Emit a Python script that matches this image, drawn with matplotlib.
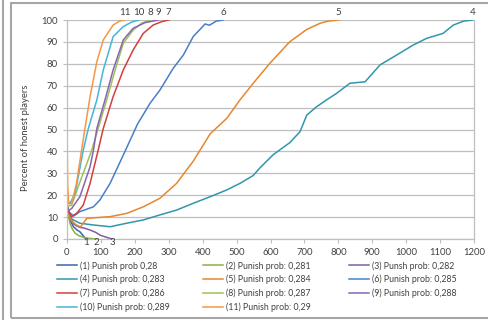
import matplotlib.pyplot as plt
from matplotlib.lines import Line2D
from matplotlib.patches import Rectangle

plt.rcParams['font.family'] = ['Lato', 'DejaVu Sans']

# values
labels = ['(1) Punish prob 0,28', '(2) Punish prob: 0,281', '(3) Punsh prob: 0,282',
          '(4) Punish prob: 0,283', '(5) Punish prob: 0,284', '(6) Punish prob: 0,285',
          '(7) Punish prob: 0,286', '(8) Punish prob: 0,287', '(9) Punish prob: 0,288',
          '(10) Punish prob: 0,289', '(11) Punish prob: 0,29']
colors = ['#3A66A8', '#8AB04A', '#7D5FA0', '#3196AC', '#E6862E', '#4A7EC9',
          '#D33F3A', '#9BC256', '#8864B5', '#45B5D6', '#F79646']

x1 = [0, 5, 9, 19, 29, 38, 48, 55]
y1 = [15.5, 11, 8.7, 5.6, 4.2, 3.3, 1.5, 0]
x2 = [0, 5, 9, 16, 24, 35, 48, 65, 88]
y2 = [15, 10, 7, 4.5, 2.6, 1.5, 0.8, 0.3, 0]
x3 = [0, 5, 10, 19, 28, 38, 50, 68, 85, 97, 112, 127, 133]
y3 = [15.5, 12, 9.5, 7, 6, 5.3, 5, 4.1, 3, 1.8, 1, 0.3, 0]
x4 = [0, 5, 15, 38, 78, 127, 176, 225, 274, 323, 372, 422, 471, 510, 549, 569, 608,
      657, 687, 707, 736, 765, 795, 834, 879, 923, 972, 1021, 1060, 1109, 1139, 1170, 1195]
y4 = [15, 12, 9, 7.2, 6.4, 5.6, 7.2, 8.7, 11, 13.2, 16.3, 19.3, 22.4, 25.4, 29, 32.5, 38.5,
      44, 49, 56.6, 60.4, 63.5, 66.5, 71.1, 71.8, 79.5, 84, 88.6, 91.6, 93.9, 97.7, 99.5, 100]
x5 = [0, 5, 15, 28, 40, 58, 90, 127, 176, 225, 274, 323, 372, 422, 471, 510, 549, 598,
      657, 707, 746, 770, 800]
y5 = [14, 11, 8, 6.4, 5.5, 9.4, 9.8, 10.2, 11.7, 14.7, 18.6, 25.4, 35.5, 48, 55.1, 63.5,
      71.1, 80.2, 90.1, 95.7, 98.5, 99.5, 100]
x6 = [0, 8, 20, 38, 78, 97, 127, 171, 208, 245, 274, 313, 343, 372, 400, 407, 420, 440, 460]
y6 = [15, 12, 10.5, 12.5, 14.7, 17.8, 25.4, 40, 52.5, 62, 68, 77.9, 84, 92.4, 97, 98.2,
      97.6, 99.5, 100]
x7 = [0, 5, 14, 30, 48, 68, 92, 107, 136, 166, 195, 225, 254, 280, 300]
y7 = [15, 12.5, 10.2, 12, 15.5, 25.4, 40.6, 50.5, 65, 77.2, 86.3, 93.9, 97.7, 99.3, 100]
x8 = [0, 5, 14, 33, 55, 73, 92, 117, 142, 166, 195, 220, 245]
y8 = [15, 15, 15.5, 23.9, 33, 40.6, 50.5, 63.5, 77.2, 89.4, 95.4, 98.5, 100]
x9 = [0, 5, 14, 38, 68, 78, 88, 112, 136, 166, 195, 230, 270]
y9 = [15, 13, 14, 19.3, 33, 40.6, 50.5, 63.5, 77.2, 90.9, 96.2, 98.8, 100]
x10 = [0, 4, 9, 24, 48, 63, 88, 107, 136, 166, 190, 212]
y10 = [16, 17, 16.3, 20.9, 40.6, 50.5, 63.5, 77.2, 92.4, 97, 99, 100]
x11 = [0, 2, 5, 14, 28, 43, 53, 68, 88, 107, 136, 155, 170]
y11 = [50, 25, 16, 16.3, 25.4, 40.6, 50.5, 65, 81, 90.9, 97.7, 99.5, 100]

xs = [x1, x2, x3, x4, x5, x6, x7, x8, x9, x10, x11]
ys = [y1, y2, y3, y4, y5, y6, y7, y8, y9, y10, y11]

W, H = 489, 320
fig = plt.figure(figsize=(W / 100, H / 100), dpi=100)
ax = fig.add_axes([67 / W, 1 - 239 / H, 407 / W, 219 / H])

lines = []
for i in range(11):
    ln, = ax.plot(xs[i], ys[i], color=colors[i], lw=1.1, label=labels[i])
    lines.append(ln)

# curve number labels at the end of each curve
txt = '#404040'
for i in range(11):
    if ys[i][-1] >= 50:
        ax.text(xs[i][-1], 101.5, str(i + 1), ha='center', va='bottom',
                fontsize=7, color=txt, clip_on=False)
    else:
        ax.text(xs[i][-1], 0.5, str(i + 1), ha='center', va='top',
                fontsize=7, color=txt, clip_on=False)

ax.set_xlim(0, 1200)
ax.set_ylim(0, 100)
ax.set_xticks(range(0, 1201, 100))
ax.set_yticks(range(0, 101, 10))
ax.yaxis.grid(True, color='#BFBFBF', lw=0.9)
ax.set_axisbelow(True)
ax.spines['top'].set_visible(False)
for s in ['left', 'bottom', 'right']:
    ax.spines[s].set_color('#BFBFBF')
    ax.spines[s].set_linewidth(0.9)
ax.tick_params(axis='both', labelsize=6.8, colors='#BFBFBF', labelcolor=txt,
               length=3, width=0.8)
ax.set_ylabel('Percent of honest players', fontsize=6.8, color=txt)
ax.yaxis.set_label_coords(-0.091, 0.46)

# legend laid out row by row in three columns
col_x = [57, 203, 349]
for c in range(3):
    idx = list(range(c, 11, 3))
    leg = fig.legend([lines[i] for i in idx], [labels[i] for i in idx],
                     loc='upper left', bbox_to_anchor=(col_x[c] / W, 1 - 261 / H),
                     frameon=False, fontsize=6.3, handlelength=2.3, handletextpad=0.35,
                     labelspacing=0.5, borderpad=0, borderaxespad=0, labelcolor=txt)

# chart frame
fig.add_artist(Line2D([3.5 / W, 3.5 / W], [0, 1], color='#A6A6A6', lw=1.5))
fig.add_artist(Rectangle((11.5 / W, 2 / H), 1, 315 / H, fill=False,
                         edgecolor='#A6A6A6', lw=1.5))

fig.savefig('out.png', dpi=100)
